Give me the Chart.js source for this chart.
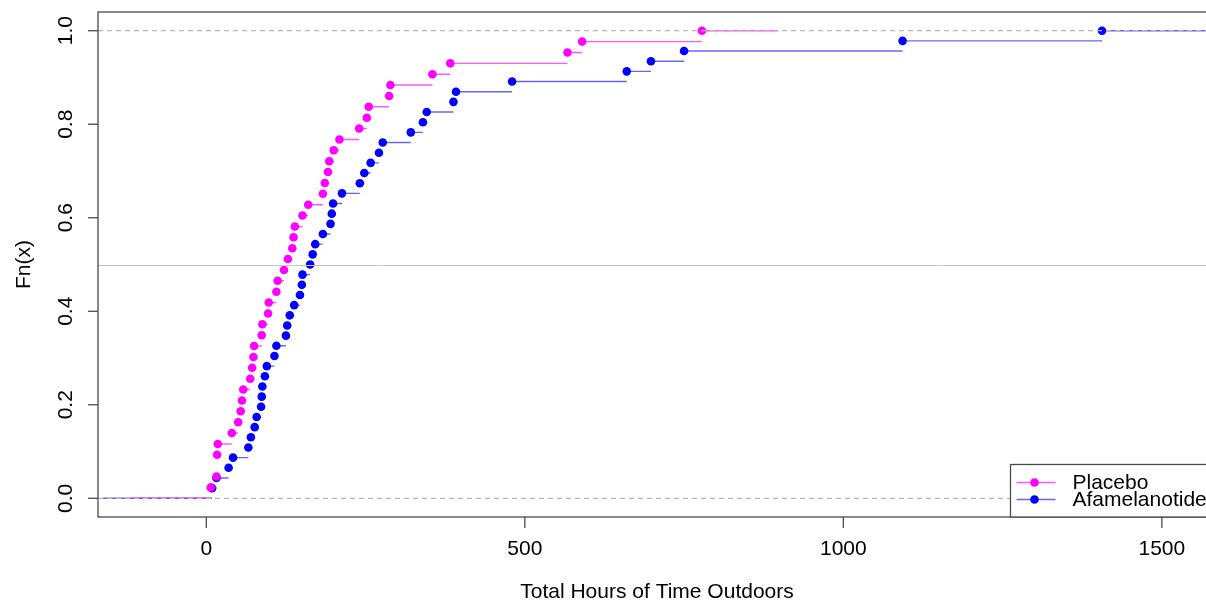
<!DOCTYPE html>
<html>
<head>
<meta charset="utf-8">
<title>Fn(x)</title>
<script src="https://cdn.jsdelivr.net/npm/chart.js@4.4.0/dist/chart.umd.min.js"></script>
<style>
  html, body { margin: 0; padding: 0; background: #fff; overflow: hidden; }
  #wrap { width: 1240px; height: 600px; }
</style>
</head>
<body>
<div id="wrap"><canvas id="ecdf" width="1240" height="600"></canvas></div>
<script>
// observed total hours outdoors per subject, sorted
const placeboHours = [7, 16, 17, 17, 18, 40, 50, 54, 56, 58, 69, 72, 74, 75, 87, 88, 97, 98, 110, 112,
  122, 128, 135, 137, 139, 151, 160, 183, 186, 191, 193, 200, 209, 240, 252, 255, 287, 289, 355, 383,
  567, 590, 778];
const afamHours = [9, 16, 35, 42, 66, 70, 76, 79, 86, 87, 88, 92, 95, 107, 110, 125, 127, 131, 138, 147,
  150, 151, 163, 167, 171, 183, 195, 197, 199, 213, 241, 248, 258, 271, 277, 321, 340, 346, 388, 392,
  480, 660, 698, 750, 1093, 1406];

// how far each step function runs past its first / last knot
const placeboSpan = [-117, 898];
const afamSpan = [-162, 1600];

const groupNames = ["Placebo", "Afamelanotide"];
const groupColors = ["#ff00ff", "#0000ff"];
const stepColors = ["rgba(255,0,255,0.65)", "rgba(0,0,255,0.6)"];

const xTicks = [0, 500, 1000, 1500];
const yTicks = [0, 0.2, 0.4, 0.6, 0.8, 1.0];

const FONT = '21px "Liberation Sans", Arial, sans-serif';

// empirical cdf: unique knots and the cumulative share at each
function ecdf(values) {
  const n = values.length;
  const knots = [], probs = [];
  values.forEach((v, i) => {
    if (knots.length && knots[knots.length - 1] === v) {
      probs[probs.length - 1] = (i + 1) / n;
    } else {
      knots.push(v);
      probs.push((i + 1) / n);
    }
  });
  return { knots, probs };
}

// horizontal pieces only, broken by null points (no verticals)
function stepSegments(f, span) {
  const out = [];
  const { knots, probs } = f;
  out.push({ x: span[0], y: 0 }, { x: knots[0], y: 0 }, { x: knots[0], y: null });
  for (let i = 0; i < knots.length; i++) {
    const next = i < knots.length - 1 ? knots[i + 1] : span[1];
    out.push({ x: knots[i], y: probs[i] }, { x: next, y: probs[i] }, { x: next, y: null });
  }
  return out;
}

const fPlacebo = ecdf(placeboHours);
const fAfam = ecdf(afamHours);

function pointsSet(f, color) {
  return {
    data: f.knots.map((k, i) => ({ x: k, y: f.probs[i] })),
    showLine: false,
    pointRadius: 4.3,
    pointBorderWidth: 0,
    pointBackgroundColor: color,
    pointHoverRadius: 4.3
  };
}

function linesSet(f, span, color) {
  return {
    data: stepSegments(f, span),
    showLine: true,
    spanGaps: false,
    borderColor: color,
    borderWidth: 1.4,
    pointRadius: 0,
    pointHoverRadius: 0
  };
}

function hline(ctx, x0, x1, y) {
  ctx.beginPath(); ctx.moveTo(x0, y); ctx.lineTo(x1, y); ctx.stroke();
}

// reference lines, frame, axes and legend in base-graphics style
const frame = {
  id: "frame",
  afterDatasetsDraw(chart) {
    const { ctx, chartArea: a, scales: { x, y } } = chart;
    ctx.save();
    ctx.beginPath();
    ctx.rect(a.left, a.top, a.right - a.left, a.bottom - a.top);
    ctx.clip();
    ctx.lineWidth = 1.2;
    ctx.strokeStyle = "#b8b8b8";
    ctx.setLineDash([5, 4]);
    [0, 1].forEach(v => hline(ctx, a.left, a.right, y.getPixelForValue(v)));
    ctx.setLineDash([]);
    ctx.strokeStyle = "#c4c4c4";
    ctx.lineWidth = 1;
    hline(ctx, a.left, a.right, Math.round(y.getPixelForValue(0.5)) + 0.5);
    ctx.restore();

    ctx.save();
    ctx.strokeStyle = "#4a4a4a";
    ctx.lineWidth = 1.3;
    ctx.strokeRect(a.left, a.top, a.right - a.left, a.bottom - a.top);

    ctx.fillStyle = "#000";
    ctx.font = FONT;
    ctx.textAlign = "center";
    ctx.textBaseline = "middle";

    x.ticks.forEach(t => {
      const px = x.getPixelForValue(t.value);
      ctx.beginPath(); ctx.moveTo(px, a.bottom); ctx.lineTo(px, a.bottom + 11); ctx.stroke();
      ctx.fillText(String(t.value), px, 549);
    });
    y.ticks.forEach(t => {
      const py = y.getPixelForValue(t.value);
      ctx.beginPath(); ctx.moveTo(a.left, py); ctx.lineTo(a.left - 10, py); ctx.stroke();
      ctx.save();
      ctx.translate(66, py);
      ctx.rotate(-Math.PI / 2);
      ctx.fillText(t.value.toFixed(1), 0, 0);
      ctx.restore();
    });

    ctx.fillText("Total Hours of Time Outdoors", (a.left + a.right) / 2, 592);
    ctx.save();
    ctx.translate(24, (a.top + a.bottom) / 2);
    ctx.rotate(-Math.PI / 2);
    ctx.fillText("Fn(x)", 0, 0);
    ctx.restore();

    // legend, bottom right inside the frame
    const lx = 1010.5, ly = 464.5;
    ctx.fillStyle = "#fff";
    ctx.fillRect(lx, ly, a.right - lx, a.bottom - ly);
    ctx.strokeRect(lx, ly, a.right - lx, a.bottom - ly);
    const rows = [482.5, 499.5];
    groupNames.forEach((name, i) => {
      ctx.strokeStyle = stepColors[i];
      ctx.lineWidth = 1.4;
      hline(ctx, lx + 6, lx + 45, rows[i]);
      ctx.fillStyle = groupColors[i];
      ctx.beginPath(); ctx.arc(lx + 24, rows[i], 4.3, 0, Math.PI * 2); ctx.fill();
      ctx.fillStyle = "#000";
      ctx.textAlign = "left";
      ctx.fillText(name, lx + 62, rows[i] + 1);
    });
    ctx.restore();
  }
};

new Chart(document.getElementById("ecdf"), {
  type: "scatter",
  data: {
    datasets: [
      pointsSet(fPlacebo, groupColors[0]),
      linesSet(fPlacebo, placeboSpan, stepColors[0]),
      pointsSet(fAfam, groupColors[1]),
      linesSet(fAfam, afamSpan, stepColors[1])
    ]
  },
  options: {
    responsive: false,
    animation: false,
    events: [],
    layout: { padding: { left: 98, top: 12, right: 24, bottom: 83 } },
    plugins: { legend: { display: false }, tooltip: { enabled: false } },
    scales: {
      x: {
        type: "linear", min: -170, max: 1585, display: false,
        afterBuildTicks: s => { s.ticks = xTicks.map(v => ({ value: v })); }
      },
      y: {
        type: "linear", min: -0.04, max: 1.04, display: false,
        afterBuildTicks: s => { s.ticks = yTicks.map(v => ({ value: v })); }
      }
    }
  },
  plugins: [frame]
});
</script>
</body>
</html>
